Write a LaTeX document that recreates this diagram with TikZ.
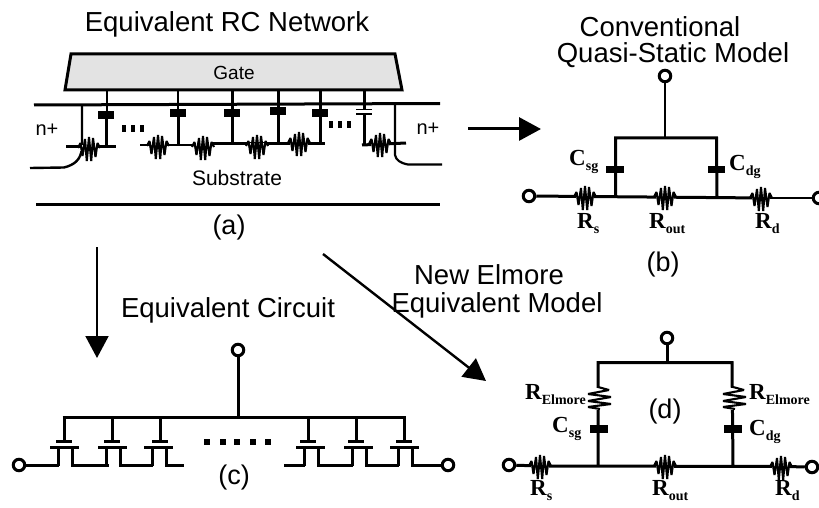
\documentclass[tikz,border=0pt]{standalone}
\usepackage{fontspec}
\setmainfont{Liberation Sans}
\newfontfamily\lblfont[BoldFont={Liberation Serif Bold}]{Liberation Serif}
\usetikzlibrary{arrows.meta}
\newcommand{\fs}[1]{\fontsize{#1}{#1}\selectfont}
\newcommand{\lblRC}[2]{{\lblfont\bfseries\fs{23}#1\raisebox{-5pt}{\fs{14}#2}}}
\tikzset{
 wire/.style={line width=3pt,line cap=rect},
 thinwire/.style={line width=2pt},
 res/.style={line width=2.1pt,line join=miter,miter limit=2},
 plate/.style={fill=black,draw=none},
 term/.style={circle,draw,line width=3pt,fill=white,minimum size=11.5pt,inner sep=0pt},
 head/.style={-{Triangle[length=22pt,width=23pt]},line width=3pt},
 ttl/.style={font=\fs{27.5},inner sep=0pt},
 sm/.style={font=\fs{20},inner sep=0pt},
 lbl/.style={inner sep=0pt,anchor=west},
 dotsq/.style={fill=black,draw=none},
 paren/.style={font=\fs{27},inner sep=0pt},
}
\newcommand{\resH}[2]{\fill[white] (#1-9,#2-3) rectangle (#1+9,#2+3);\draw[res,shift={(#1,#2)}] (-11,0)--(-8.5,-5)--(-6.5,8)--(-4,-9)--(-2.2,13)--(0,-11)--(2.2,13)--(4,-10)--(6.5,9)--(8.5,-5)--(11,0);}
\newcommand{\resV}[2]{\draw[res,shift={(#1,#2)}] (0,-11)--(11,-8)--(-10,-4)--(13,-1)--(-10,3)--(13,6)--(-10,9)--(2,11);}
\newcommand{\fet}[2]{%
 \draw[wire,line cap=butt] (#1-8,441) -- (#1+8,441);
 \draw[wire,line width=3.4pt,line cap=butt] (#2-14,447.5) -- (#2+15,447.5);
 \draw[wire,line cap=butt] (#2-6,447) -- (#2-6,465.5);
 \draw[wire,line cap=butt] (#2+8,447) -- (#2+8,465.5);}
\begin{document}
\begin{tikzpicture}[x=1pt,y=-1pt]
\useasboundingbox (0,0) rectangle (819,508);
\fill[white] (0,0) rectangle (819,508);
% ---------- (a)
\node[ttl] (t1) at (227,24) {Equivalent RC Network};
\draw[line width=3pt,fill=black!11,line join=miter] (71,54) -- (395,54) -- (402,90) -- (65,90) -- cycle;
\node[sm,font=\fs{19}] (gate) at (234,73) {Gate};
\draw[wire,line cap=butt] (34,105) -- (440,103.5);
\draw[wire,line cap=butt] (36,204.7) -- (440,204.7);
\node[sm] (nl) at (47,130) {n+};
\node[sm] (nr) at (428,129) {n+};
\node[sm,font=\fs{21}] (sub) at (237,178) {Substrate};
\node[paren] (a) at (229,228) {(a)};
% junctions
\draw[line width=2.4pt] (30,168) -- (64,167.5) .. controls (74,165) and (81,160) .. (82,148) -- (82,105);
\draw[line width=2.2pt] (395,105) -- (395,155) .. controls (396,160) and (400,163) .. (408,164.5) -- (442,164.5);
% stems
\draw[thinwire] (107,90) -- (107,112);
\draw[wire,line cap=butt] (106,118) -- (106,147);
\draw[thinwire] (178,90) -- (178,112);
\draw[wire,line cap=butt] (178,116) -- (178,146);
\draw[wire,line cap=butt] (232,90) -- (232,145);
\draw[wire,line cap=butt] (278,90) -- (278,145);
\draw[wire,line cap=butt] (320,90) -- (320,145);
\draw[wire,line cap=butt] (364,90) -- (364,110);
\draw[wire,line cap=butt] (364,115) -- (364,145);
% plates
\fill[plate] (98,111) rectangle (114,119);
\fill[plate] (170,109) rectangle (186,117);
\fill[plate] (224,109) rectangle (240,117);
\fill[plate] (270,107) rectangle (286,115);
\fill[plate] (312,109) rectangle (328,117);
\draw[line width=1.5pt] (356,109.5) -- (372,109.5);
\draw[line width=1.5pt] (356,114) -- (372,114);
% channel wires
\draw[wire,line cap=butt] (66,147) -- (116,147);
\draw[line width=2pt] (140,145.5) -- (195,145.5);
\draw[wire,line cap=butt] (213,144) -- (325,144);
\draw[wire,line cap=butt] (362,145) -- (406,143);
\resH{89}{148}\resH{158}{146}\resH{203}{147}\resH{257}{146}\resH{299}{143}\resH{380}{144}
\foreach \x in {122,131,140} \fill[dotsq] (\x,125) rectangle ++(4,7);
\foreach \x in {329,338,347} \fill[dotsq] (\x,121) rectangle ++(4,7);
% ---------- (b)
\node[ttl] (t2a) at (660,27) {Conventional};
\node[ttl] (t2b) at (673,55) {Quasi-Static Model};
\node[term] (bt) at (665,76) {};
\node[term] (bl) at (529,196) {};
\node[term] (br) at (819,198) {};
\coordinate (bj) at (665,138);
\draw[thinwire] (bt) -- (bj);
\draw[wire,line cap=butt,line join=miter] (615.5,197) -- (615.5,138) -- (716.5,138) -- (717,197);
\draw[wire,line cap=butt] (bl) -- (765,198);
\draw[thinwire] (765,198) -- (br);
\fill[plate] (606,166) rectangle (624,173);
\fill[plate] (708,166) rectangle (725,173);
\resH{585}{197}\resH{665}{197}\resH{761}{198}
\node[lbl] (csg1) at (569,162) {\lblRC{C}{sg}};
\node[lbl] (cdg1) at (729,167) {\lblRC{C}{dg}};
\node[lbl] (rs1) at (577,224) {\lblRC{R}{s}};
\node[lbl] (rout1) at (649,224) {\lblRC{R}{out}};
\node[lbl] (rd1) at (755,224) {\lblRC{R}{d}};
\node[paren] (b) at (663,265) {(b)};
% ---------- arrows
\coordinate (ar1a) at (468,129); \coordinate (ar1b) at (541,129);
\draw[head] (ar1a) -- (ar1b);
\coordinate (ar2a) at (97,247); \coordinate (ar2b) at (97,358);
\draw[head,line width=2pt] (ar2a) -- (ar2b);
\coordinate (ar3a) at (323,254); \coordinate (ar3b) at (486,381);
\draw[head,line width=2.4pt] (ar3a) -- (ar3b);
% ---------- (c)
\node[ttl] (t3) at (228,310) {Equivalent Circuit};
\node[term] (ct) at (238,350) {};
\node[term] (cl) at (19,465) {};
\node[term] (cr) at (448,465) {};
\coordinate (cj) at (238,417);
\draw[wire,line cap=butt] (ct) -- (cj);
\draw[wire,line cap=butt] (62.5,417) -- (405.5,417);
\foreach \x in {64,112,160,308,356,404} \draw[wire,line cap=butt] (\x,417) -- (\x,440);
\fet{64}{64}\fet{112}{112}\fet{160}{158}\fet{308}{310}\fet{356}{358}\fet{404}{404}
\draw[wire,line cap=butt] (cl) -- (59,465);
\draw[wire,line cap=butt] (71,465) -- (109,465);
\draw[wire,line cap=butt] (119,465) -- (153,465);
\draw[wire,line cap=butt] (165,465) -- (184,465);
\draw[wire,line cap=butt] (284,465) -- (305,465);
\draw[wire,line cap=butt] (317,465) -- (353,465);
\draw[wire,line cap=butt] (365,465) -- (399,465);
\draw[wire,line cap=butt] (411,465) -- (cr);
\foreach \x in {204,220,234,250,265} \fill[dotsq] (\x,439) rectangle ++(6,6);
\node[paren] (c) at (234,478) {(c)};
% ---------- (d)
\node[ttl] (t4a) at (489,275) {New Elmore};
\node[ttl] (t4b) at (497,305) {Equivalent Model};
\node[term] (dt) at (667,338) {};
\node[term] (dl) at (509,465) {};
\node[term] (dr) at (812,467) {};
\coordinate (dj) at (667,362.5);
\draw[wire,line cap=butt] (dt) -- (dj);
\draw[wire,line cap=butt,line join=miter] (598,466) -- (598,362.5) -- (732,362.5) -- (733,466);
\draw[wire,line cap=butt] (dl) -- (540,466) -- (781,466.5) -- (dr);
\fill[white] (589,388) rectangle (612,410);
\fill[white] (722,388) rectangle (748,410);
\resV{598}{398}\resV{733}{398}
\fill[plate] (590,425) rectangle (608,433);
\fill[plate] (724,425) rectangle (742,433);
\resH{540}{466}\resH{665}{466}\resH{781}{467}
\node[lbl] (re1) at (525,395) {\lblRC{R}{Elmore}};
\node[lbl] (re2) at (749,395) {\lblRC{R}{Elmore}};
\node[lbl] (csg2) at (552,429) {\lblRC{C}{sg}};
\node[lbl] (cdg2) at (749,432) {\lblRC{C}{dg}};
\node[lbl] (rs2) at (530,491) {\lblRC{R}{s}};
\node[lbl] (rout2) at (652,491) {\lblRC{R}{out}};
\node[lbl] (rd2) at (775,491) {\lblRC{R}{d}};
\node[paren] (d) at (665,412) {(d)};
\end{tikzpicture}
\end{document}
